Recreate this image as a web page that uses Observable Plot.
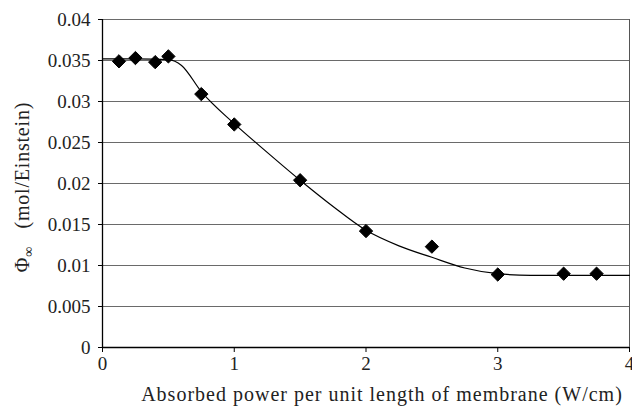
<!DOCTYPE html>
<html>
<head>
<meta charset="utf-8">
<script src="https://cdn.jsdelivr.net/npm/d3@7"></script>
<script src="https://cdn.jsdelivr.net/npm/@observablehq/plot@0.6"></script>
<style>
  html, body { margin: 0; padding: 0; background: white; }
</style>
</head>
<body>
<div id="chart"></div>
<script>
// Measured points
const pointX = [0.125, 0.25, 0.4, 0.5, 0.75, 1.0, 1.5, 2.0, 2.5, 3.0, 3.5, 3.75];
const pointY = [0.0349, 0.0353, 0.0348, 0.0355, 0.0309, 0.0272, 0.0204, 0.0142, 0.0123, 0.0089, 0.0090, 0.0090];

// Fitted curve
const curveX = [0, 0.25, 0.5, 0.6, 0.75, 1.0, 1.25, 1.5, 1.75, 2.0, 2.25, 2.5, 2.75, 3.0, 3.25, 3.5, 4.0];
const curveY = [0.0352, 0.0352, 0.0351, 0.0344, 0.0312, 0.0273, 0.0238, 0.0204, 0.0172, 0.0143, 0.0124, 0.0110, 0.0097, 0.0090, 0.0088, 0.0088, 0.0088];

const xTicks = [0, 1, 2, 3, 4];
const yTicks = [0, 0.005, 0.01, 0.015, 0.02, 0.025, 0.03, 0.035, 0.04];

const points = pointX.map((x, i) => ({x, y: pointY[i]}));
const curve = curveX.map((x, i) => ({x, y: curveY[i]}));

const FONT = "Liberation Serif, Times New Roman, DejaVu Serif, serif";

const chart = Plot.plot({
  width: 632,
  height: 409,
  marginLeft: 102,
  marginRight: 3,
  marginTop: 19,
  marginBottom: 62,
  style: {fontFamily: FONT, fontSize: "19px", color: "#222", background: "white", overflow: "visible"},
  x: {domain: [0, 4], label: null},
  y: {domain: [0, 0.04], label: null},
  marks: [
    Plot.ruleY(yTicks.filter(d => d > 0), {stroke: "#6a6a6a", strokeWidth: 1}),
    Plot.ruleX([4], {stroke: "#555", strokeWidth: 1}),
    Plot.axisX({ticks: xTicks, tickSize: 5, tickPadding: 4, tickFormat: d => String(d), stroke: "black", fill: "#222", label: null}),
    Plot.axisY({ticks: yTicks, tickSize: 4, tickPadding: 8, tickFormat: d => String(d), stroke: "black", fill: "#222", label: null}),
    Plot.ruleX([0], {stroke: "black", strokeWidth: 1.3}),
    Plot.ruleY([0], {stroke: "black", strokeWidth: 1.3}),
    Plot.line(curve, {x: "x", y: "y", curve: "monotone-x", stroke: "black", strokeWidth: 1.2}),
    Plot.dot(points, {x: "x", y: "y", symbol: "diamond2", r: 6, fill: "black", stroke: "black", strokeWidth: 1})
  ]
});

const svg = d3.select(chart);
// x-axis title
svg.append("text")
  .attr("x", 382)
  .attr("y", 401)
  .attr("text-anchor", "middle")
  .attr("font-family", FONT)
  .attr("font-size", 20)
  .attr("letter-spacing", "1px")
  .attr("fill", "#222")
  .text("Absorbed power per unit length of membrane (W/cm)");
// y-axis title with subscript
const yl = svg.append("text")
  .attr("transform", "translate(29,187) rotate(-90)")
  .attr("text-anchor", "middle")
  .attr("font-family", FONT)
  .attr("font-size", 20)
  .attr("letter-spacing", "0.8px")
  .attr("fill", "#222");
yl.append("tspan").text("Φ");
yl.append("tspan").attr("font-size", 14).attr("dy", 4).text("∞");
yl.append("tspan").attr("dy", -4).text("   (mol/Einstein)");

document.getElementById("chart").appendChild(chart);
</script>
</body>
</html>
